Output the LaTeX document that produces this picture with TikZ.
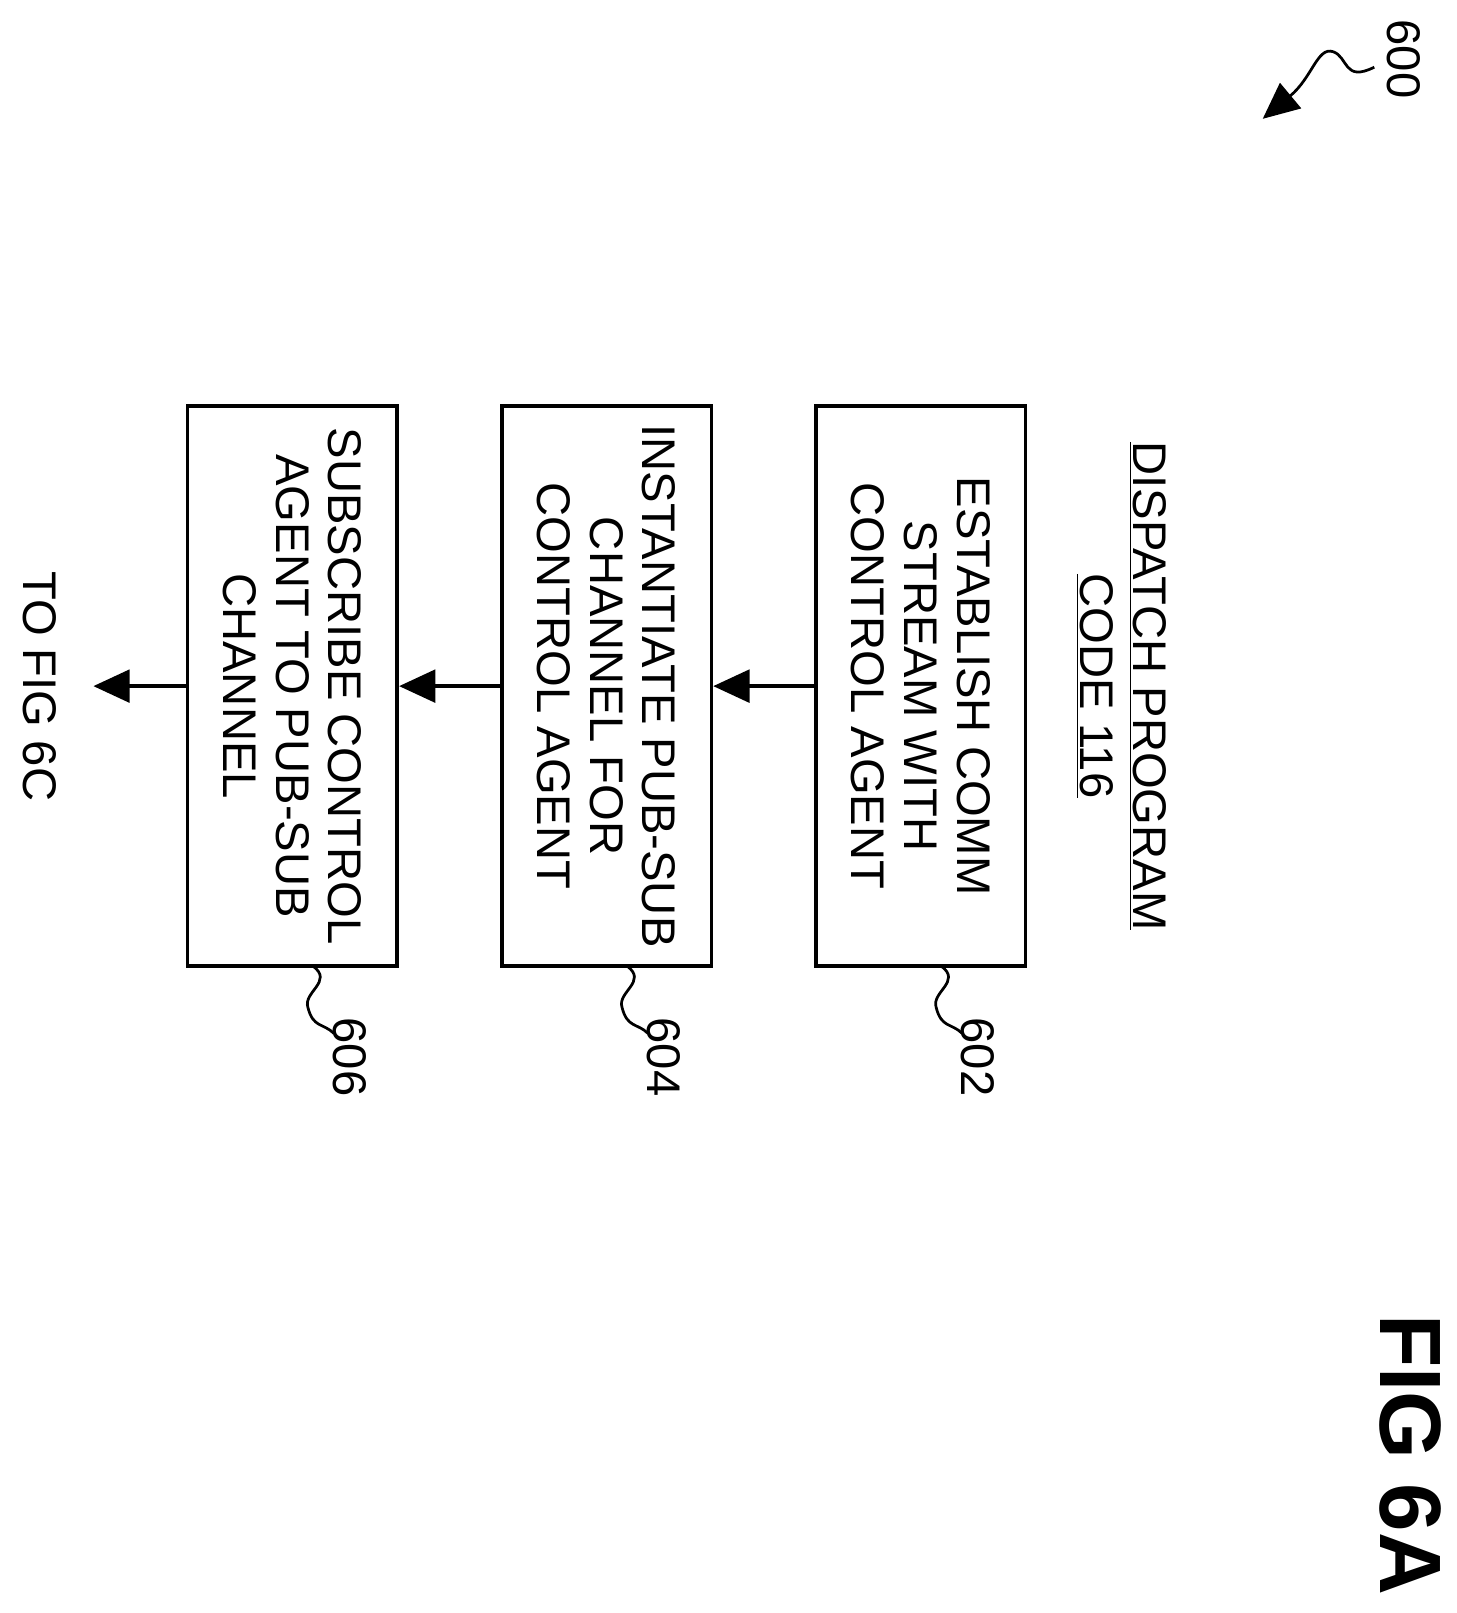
\documentclass[tikz,border=0pt]{standalone}
\usepackage{fontspec}
\setmainfont{Liberation Sans}
\usetikzlibrary{arrows.meta,positioning}
\begin{document}
\begin{tikzpicture}[
      x=0.02cm,y=-0.02cm,
      stepbox/.style={rectangle,draw,line width=2pt,minimum width=10.84cm,minimum height=4.06cm,rotate=-90,align=center,font=\fontsize{26}{29}\selectfont},
      txt/.style={rotate=-90,align=center,font=\fontsize{26}{29}\selectfont},
      >={Triangle[length=20pt,width=18pt]}
    ]
    \useasboundingbox (0,0) rectangle (1410,1561);
    \node[stepbox] (S602) at (891,664) {ESTABLISH COMM\\STREAM WITH\\CONTROL AGENT};
    \node[stepbox] (S604) at (587,664) {INSTANTIATE PUB-SUB\\CHANNEL FOR\\CONTROL AGENT};
    \node[stepbox] (S606) at (283,664) {SUBSCRIBE CONTROL\\AGENT TO PUB-SUB\\CHANNEL};
    \node[txt] (title) at (1085,664) {\underline{DISPATCH PROGRAM}\\\underline{CODE 116}};
    \node[txt] (next) at (38,664) {TO FIG 6C};
    \node[txt,font=\bfseries\fontsize{48}{50}\selectfont] (fig) at (1365,1408) {FIG 6A};

    \draw[->,line width=2pt] (S602.south) -- (S604.north);
    \draw[->,line width=2pt] (S604.south) -- (S606.north);
    \draw[->,line width=2pt] (S606.south) -- ([xshift=0.6cm]next.north);

    % reference labels
    \foreach \n/\x in {602/891,604/587,606/283}{
      \node[txt] (L\n) at (\x+55,1023) {\n};
      \draw[line width=1.5pt] (\x+20,935) .. controls (\x+40,950) and (\x+10,960) .. (\x+15,975)
        .. controls (\x+20,995) and (\x+30,990) .. (\x+40,1000);
    }
    \node[txt] (L600) at (1358,57) {600};
    \coordinate (A600) at (1222,115);
    \draw[->,line width=1.5pt] (1330,65) .. controls (1300,80) and (1305,55) .. (1290,50)
      .. controls (1275,45) and (1270,75) .. (A600);
\end{tikzpicture}
\end{document}
